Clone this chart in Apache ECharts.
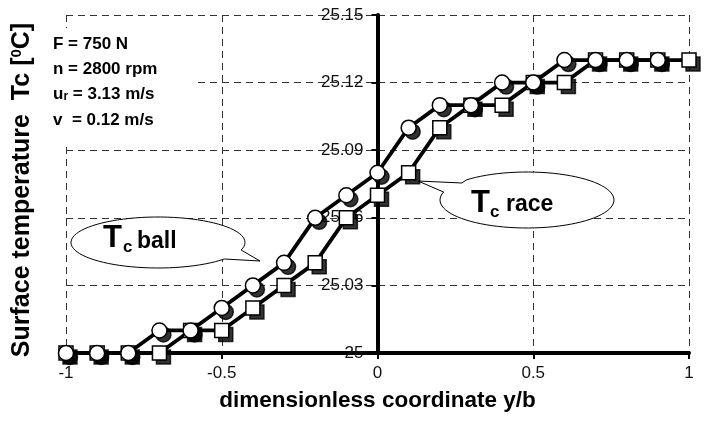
<!DOCTYPE html>
<html><head><meta charset="utf-8">
<script src="https://cdn.jsdelivr.net/npm/echarts@6/dist/echarts.min.js"></script>
<style>html,body{margin:0;padding:0;background:#fff}#c{width:713px;height:426px}</style>
</head><body><div id="c"></div>
<script>
// ---- data ----
const xValues  = [-1,-0.9,-0.8,-0.7,-0.6,-0.5,-0.4,-0.3,-0.2,-0.1,0,0.1,0.2,0.3,0.4,0.5,0.6,0.7,0.8,0.9,1];
const ballTemp = [25,25,25,25.01,25.01,25.02,25.03,25.04,25.06,25.07,25.08,25.10,25.11,25.11,25.12,25.12,25.13,25.13,25.13,25.13,null];
const raceTemp = [25,25,25,25.00,25.01,25.01,25.02,25.03,25.04,25.06,25.07,25.08,25.10,25.11,25.11,25.12,25.12,25.13,25.13,25.13,25.13];
const xTickLabels = ['-1','-0.5','0','0.5','1'];
const yTickLabels = ['25','25.03','25.06','25.09','25.12','25.15'];
const xAxisTitle = 'dimensionless coordinate y/b';
const conditions = ['F = 750 N','n = 2800 rpm','u_r = 3.13 m/s','v  = 0.12 m/s'];

const FF = '"Liberation Sans", Arial, sans-serif';
const chart = echarts.init(document.getElementById('c'), null, {renderer:'canvas'});

function pairs(ys){ return xValues.map((x,i)=>[x, ys[i]]); }
const markerStyle = {color:'#fff', borderColor:'#000', borderWidth:1.5};
const shadowStyle = {color:'#000', borderColor:'#000', borderWidth:1.5};

function arcPts(cx,cy,rx,ry,a0,a1,n){
  const pts=[];
  for(let i=0;i<=n;i++){const a=a0+(a1-a0)*i/n; pts.push([cx+rx*Math.cos(a), cy+ry*Math.sin(a)]);}
  return pts;
}

const condGraphics = [
  {type:'rect', shape:{x:40,y:28,width:153,height:114}, style:{fill:'#fff'}, z:90},
  {type:'text', x:53, y:44, style:{text:conditions[0], font:'bold 17px '+FF, fill:'#000', verticalAlign:'middle'}, z:100},
  {type:'text', x:53, y:69, style:{text:conditions[1], font:'bold 17px '+FF, fill:'#000', verticalAlign:'middle'}, z:100},
  {type:'text', x:53, y:94, style:{text:'{a|u}{s|r}{a|'+conditions[2].slice(3)+'}', fill:'#000', verticalAlign:'middle',
     rich:{a:{font:'bold 17px '+FF, fill:'#000'}, s:{font:'bold 12px '+FF, fill:'#000', verticalAlign:'bottom'}}}, z:100},
  {type:'text', x:53, y:120, style:{text:conditions[3], font:'bold 17px '+FF, fill:'#000', verticalAlign:'middle'}, z:100}
];

const ballPts = arcPts(158,242.5,87,25.5,0.2985,0.704-2*Math.PI,80).concat([[260,261]]);
const racePts = arcPts(527,200,87,28,-2.347,-2.853+2*Math.PI,80).concat([[418,181],[462,183]]);

const ballCallout = [
  {type:'polygon', shape:{points:ballPts}, style:{fill:'#fff', stroke:'#000', lineWidth:1}, z:95},
  {type:'text', x:103, y:238.5, style:{text:'T', font:'bold 31px '+FF, fill:'#000', verticalAlign:'middle'}, z:100},
  {type:'text', x:123, y:247, style:{text:'c', font:'bold 17px '+FF, fill:'#000', verticalAlign:'middle'}, z:100},
  {type:'text', x:137, y:241.5, style:{text:'ball', font:'bold 23px '+FF, fill:'#000', verticalAlign:'middle'}, z:100}
];
const raceCallout = [
  {type:'polygon', shape:{points:racePts}, style:{fill:'#fff', stroke:'#000', lineWidth:1}, z:95},
  {type:'text', x:471, y:203, style:{text:'T', font:'bold 31px '+FF, fill:'#000', verticalAlign:'middle'}, z:100},
  {type:'text', x:490, y:212, style:{text:'c', font:'bold 17px '+FF, fill:'#000', verticalAlign:'middle'}, z:100},
  {type:'text', x:506, y:205, style:{text:'race', font:'bold 23px '+FF, fill:'#000', verticalAlign:'middle'}, z:100}
];
const yTitle = {type:'text', x:22, y:190, rotation:Math.PI/2,
  style:{text:'{a|Surface temperature  Tc [}{s|0}{a|C]}', align:'center', verticalAlign:'middle',
    rich:{a:{font:'bold 25px '+FF, fill:'#000'}, s:{font:'bold 15px '+FF, fill:'#000', verticalAlign:'top'}}}, z:100};

chart.setOption({
  animation:false,
  backgroundColor:'#fff',
  grid:{left:66, right:24, top:15, bottom:73, outerBoundsMode:'none', containLabel:false},
  xAxis:{type:'value', min:-1, max:1, interval:0.5,
    name:xAxisTitle, nameLocation:'middle', nameGap:36,
    nameTextStyle:{fontFamily:FF, fontWeight:'bold', fontSize:22.5, color:'#000'},
    axisLine:{onZero:false, lineStyle:{color:'#000', width:4}},
    axisTick:{show:true, length:6, lineStyle:{color:'#000', width:2}},
    axisLabel:{margin:12, fontFamily:FF, fontSize:17, color:'#111',
      formatter:(v)=>xTickLabels[Math.round((v+1)/0.5)]},
    splitLine:{show:true, lineStyle:{color:'#333', width:1, type:[7,5]}}},
  yAxis:{type:'value', min:25, max:25.15, interval:0.03, position:'left', offset:-311.5,
    axisLine:{show:true, onZero:false, lineStyle:{color:'#000', width:4}},
    axisTick:{show:true, length:6, lineStyle:{color:'#000', width:2}},
    axisLabel:{margin:14, fontFamily:FF, fontSize:17, color:'#111',
      formatter:(v)=>yTickLabels[Math.round((v-25)/0.03)]},
    splitLine:{show:true, lineStyle:{color:'#333', width:1, type:[7,5]}}},
  series:[
    {type:'scatter', name:'race shadow', data:pairs(raceTemp), symbol:'rect', symbolSize:14, symbolOffset:[4,4],
     itemStyle:shadowStyle, emphasis:{disabled:true}, z:2},
    {type:'line', name:'race', data:pairs(raceTemp), symbol:'rect', symbolSize:14,
     lineStyle:{color:'#000', width:3.8}, itemStyle:markerStyle, emphasis:{disabled:true}, z:3},
    {type:'scatter', name:'ball shadow', data:pairs(ballTemp), symbol:'circle', symbolSize:15, symbolOffset:[4,4],
     itemStyle:shadowStyle, emphasis:{disabled:true}, z:4},
    {type:'line', name:'ball', data:pairs(ballTemp), symbol:'circle', symbolSize:15,
     lineStyle:{color:'#000', width:3.8}, itemStyle:markerStyle, emphasis:{disabled:true}, z:5}
  ],
  graphic:{elements:[...condGraphics, ...ballCallout, ...raceCallout, yTitle]}
});
</script></body></html>
